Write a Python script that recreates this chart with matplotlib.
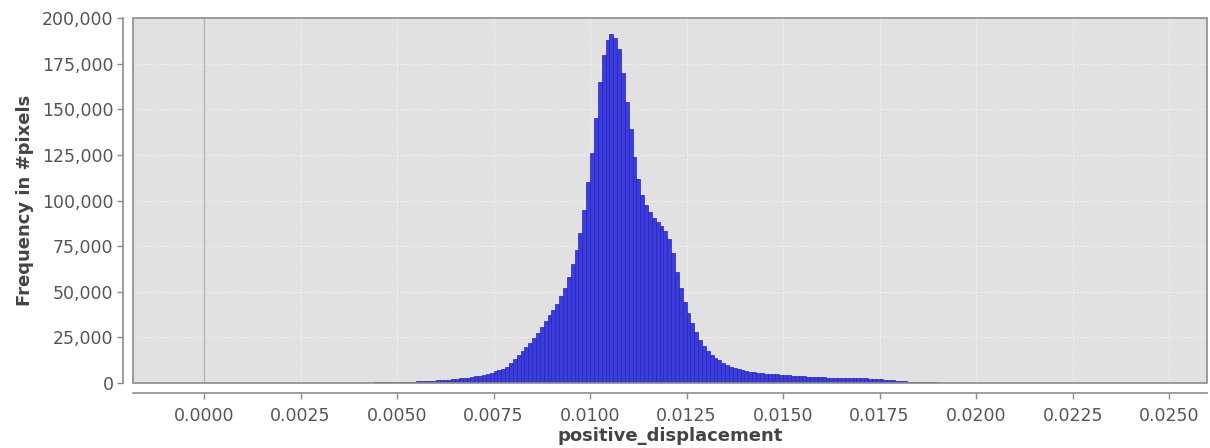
import numpy as np
import matplotlib
matplotlib.use("Agg")
import matplotlib.pyplot as plt
from matplotlib.patches import Rectangle
from matplotlib.ticker import FuncFormatter

# histogram of positive_displacement, bins of 0.0001 starting at 0.0030
bin_start = 0.0030
bin_width = 0.0001
counts = [
    30, 40, 50, 60, 70, 80, 100, 120, 140, 160,                                   # 0.0030
    180, 200, 230, 260, 290, 320, 360, 400, 440, 490,                             # 0.0040
    540, 600, 660, 730, 800, 880, 970, 1070, 1180, 1300,                          # 0.0050
    1430, 1570, 1720, 1890, 2070, 2270, 2490, 2730, 3000, 3300,                   # 0.0060
    3650, 4050, 4500, 5000, 5600, 6300, 7000, 7900, 9000, 11000,                  # 0.0070
    13000, 15200, 17500, 19800, 22000, 24500, 27500, 30500, 33800, 37000,         # 0.0080
    40000, 43500, 47500, 52000, 58000, 65000, 73000, 82000, 95000, 110000,        # 0.0090
    126000, 145000, 165000, 180000, 188000, 191000, 189000, 183000, 170000, 154000,  # 0.0100
    139000, 124000, 112000, 103000, 97500, 93500, 90500, 88000, 86000, 83500,     # 0.0110
    79000, 71000, 61000, 52000, 44500, 38500, 33000, 28000, 23500, 20000,         # 0.0120
    17500, 15500, 13800, 12400, 11000, 9800, 8900, 8100, 7500, 7000,              # 0.0130
    6600, 6200, 5900, 5600, 5400, 5200, 5000, 4850, 4700, 4550,                   # 0.0140
    4400, 4250, 4100, 3950, 3800, 3650, 3500, 3400, 3300, 3200,                   # 0.0150
    3100, 3000, 2950, 2900, 2850, 2800, 2750, 2700, 2650, 2600,                   # 0.0160
    2550, 2500, 2400, 2300, 2150, 2000, 1800, 1600, 1400, 1200,                   # 0.0170
    1050, 900, 780, 670, 580, 500, 430, 370, 320, 280,                            # 0.0180
    240, 210, 180, 160, 140, 120, 105, 90, 80, 70,                                # 0.0190
    60, 52, 45, 40, 35, 30, 26, 22, 19, 16,                                       # 0.0200
    14, 12, 10, 8, 7, 6, 5, 4, 3, 2,                                              # 0.0210
]
x_ticks = [0.0, 0.0025, 0.005, 0.0075, 0.01, 0.0125, 0.015, 0.0175, 0.02, 0.0225, 0.025]
y_ticks = [0, 25000, 50000, 75000, 100000, 125000, 150000, 175000, 200000]

edges = bin_start + bin_width * np.arange(len(counts))

fig = plt.figure(figsize=(12.1, 4.48), dpi=100)
ax = fig.add_axes([0.1099, 0.1451, 0.8876, 0.8147])
ax.set_facecolor("#e1e1e1")

ax.bar(edges, counts, width=bin_width, align="edge",
       color="#3c3cd8", edgecolor="#2323c8", linewidth=0.5, zorder=3)

ax.set_xlim(-0.00184, 0.02598)
ax.set_ylim(0, 200000)
ax.set_xticks(x_ticks)
ax.set_yticks(y_ticks)
ax.xaxis.set_major_formatter(FuncFormatter(lambda v, p: f"{v:.4f}"))
ax.yaxis.set_major_formatter(FuncFormatter(lambda v, p: f"{int(v):,}"))

ax.grid(True, color="#f6f6f6", linestyle=(0, (2, 2)), linewidth=0.6, zorder=1)
ax.axvline(0.0, color="#b4b4b4", linewidth=1.0, zorder=2)

for side in ["top", "right"]:
    ax.spines[side].set_visible(False)
for side in ["left", "bottom"]:
    ax.spines[side].set_position(("outward", 7))
    ax.spines[side].set_color("#8c8c8c")
    ax.spines[side].set_linewidth(1.2)
ax.add_patch(Rectangle((0, 0), 1, 1, transform=ax.transAxes, fill=False,
                       edgecolor="#8c8c8c", linewidth=1.2, clip_on=False, zorder=5))

ax.tick_params(axis="both", direction="out", length=4, width=1, color="#8c8c8c",
               labelcolor="#555555", labelsize=12.5)
ax.tick_params(axis="x", pad=6)
ax.tick_params(axis="y", pad=3)

ax.set_xlabel("positive_displacement", fontsize=13, fontweight="bold", color="#444444", labelpad=2)
ax.set_ylabel("Frequency in #pixels", fontsize=13, fontweight="bold", color="#444444", labelpad=6)

fig.savefig("out.png", dpi=100)
